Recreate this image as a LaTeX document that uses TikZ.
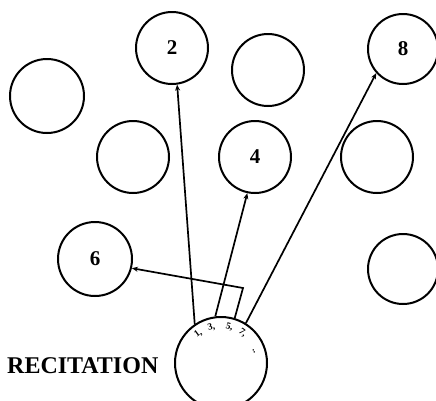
\documentclass[tikz,border=0pt]{standalone}
\usepackage{fontspec}
\setmainfont{Liberation Serif}
\usetikzlibrary{arrows.meta,calc}
\tikzset{
  ring/.style={draw, circle, line width=2pt, inner sep=0pt, minimum size=#1, font=\bfseries\fontsize{21}{21}\selectfont},
  ring/.default=72pt,
  link/.style={line width=1.7pt, -{Stealth[length=6pt,width=5pt]}},
  seq/.style={font=\bfseries\fontsize{9.5}{9.5}\selectfont, inner sep=0pt}
}
\begin{document}
\begin{tikzpicture}[x=1pt,y=-1pt]
\useasboundingbox (0,0) rectangle (436,400);
\clip (0,0) rectangle (436,400);
\node[ring] (c2) at (172,48) {2};
\node[ring] (cm) at (268,70) {};
\node[ring=70pt] (c8) at (403,49) {8};
\node[ring=74pt] (cl) at (47,96) {};
\node[ring] (cr2l) at (133,157) {};
\node[ring] (c4) at (255,157) {4};
\node[ring] (cr2r) at (377,157) {};
\node[ring=74pt] (c6) at (95,259) {6};
\node[ring=70pt] (cbr) at (403,269) {};
\node[ring=92pt] (rec) at (221,363) {};
\node[font=\bfseries\fontsize{24}{24}\selectfont, anchor=west, inner sep=0pt] (lab) at (7,366) {RECITATION};
% sequence along the arc
\node[seq, rotate=37] (s1) at ($(rec.center)+(128:37pt)$) {1,};
\node[seq, rotate=15] (s3) at ($(rec.center)+(105:37pt)$) {3,};
\node[seq, rotate=-15] (s5) at ($(rec.center)+(77:37pt)$) {5,};
\node[seq, rotate=-39] (s7) at ($(rec.center)+(54:37pt)$) {7,};
\node[seq, rotate=-68] (sd) at ($(rec.center)+(20:35pt)$) {..};
% connectors
\draw[link] (rec.124) -- (c2.-82);
\draw[link] (rec.97) -- (c4.-102);
\draw[link] (rec.58) -- (c8.-138);
\coordinate (bend) at (243,288);
\draw[link] (rec.73) -- (bend) -- (c6.-14);
\end{tikzpicture}
\end{document}
